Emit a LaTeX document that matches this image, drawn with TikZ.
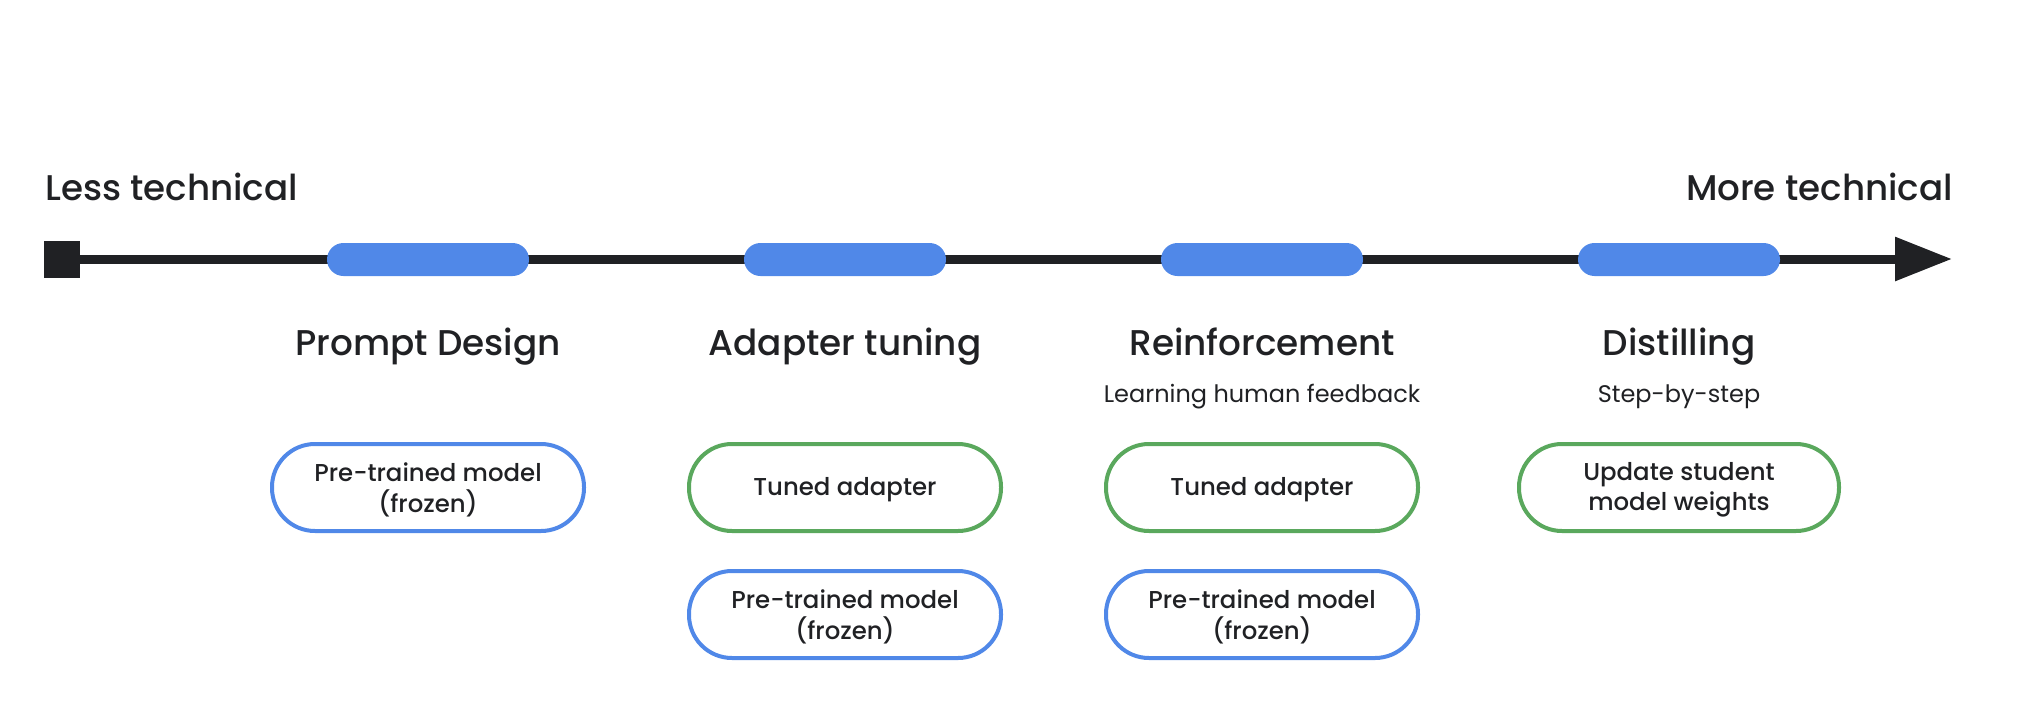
\documentclass[tikz,border=0pt]{standalone}
\usepackage{fontspec}
\setmainfont{Poppins}
\newfontfamily\medfont{Poppins Medium}
\usetikzlibrary{arrows.meta}
\definecolor{gblue}{HTML}{5088E8}
\definecolor{ggreen}{HTML}{5AA85D}
\definecolor{ink}{HTML}{202124}
\begin{document}
\begin{tikzpicture}[x=1pt,y=-1pt,
  bar/.style={fill=gblue, rounded corners=16.5pt, minimum width=202pt, minimum height=33pt, inner sep=0pt},
  pill/.style={draw=#1, line width=4pt, fill=white, rounded corners=43pt, minimum width=312pt, minimum height=87pt,
     inner sep=0pt},
  pilltext/.style={align=center, text=ink, inner sep=0pt, yshift=-2.5pt, font=\fontsize{24.4}{30.5}\selectfont\medfont},
  title/.style={anchor=base, text=ink, inner sep=0pt, font=\fontsize{35.8}{42}\selectfont\medfont},
  sub/.style={anchor=base, text=ink, inner sep=0pt, font=\fontsize{24}{28}\selectfont},
  ends/.style={anchor=base, text=ink, inner sep=0pt, font=\fontsize{35.7}{42}\selectfont\medfont}]
\useasboundingbox (0,0) rectangle (2028,720);
\fill[white] (0,0) rectangle (2028,720);
% timeline
\node[fill=ink, minimum width=36pt, minimum height=37pt, inner sep=0pt] (sq) at (62,259) {};
\coordinate (tip) at (1952,259);
\draw[ink, line width=9pt, -{Triangle[length=57pt,width=42pt]}] (sq.center) -- (tip);
\node[bar] (b1) at (428,259.5) {};
\node[bar] (b2) at (845,259.5) {};
\node[bar] (b3) at (1262,259.5) {};
\node[bar] (b4) at (1679,259.5) {};
% end labels
\node[ends, anchor=base west] (less) at (45,200) {Less technical};
\node[ends, anchor=base east] (more) at (1953,200) {More technical};
% titles
\node[title] (t1) at (428,355) {Prompt Design};
\node[title] (t2) at (845,355) {Adapter tuning};
\node[title] (t3) at (1262,355) {Reinforcement};
\node[title] (t4) at (1679,355) {Distilling};
\node[sub] (s3) at (1262,402) {Learning human feedback};
\node[sub] (s4) at (1679,402) {Step-by-step};
% boxes
\node[pill=gblue] (p1) at (428,487.5) {};
\node[pilltext] (p1t) at (p1.center) {Pre-trained model\\(frozen)};
\node[pill=ggreen] (a2) at (845,487.5) {};
\node[pilltext] (a2t) at (a2.center) {Tuned adapter};
\node[pill=gblue] (p2) at (845,614.5) {};
\node[pilltext] (p2t) at (p2.center) {Pre-trained model\\(frozen)};
\node[pill=ggreen] (a3) at (1262,487.5) {};
\node[pilltext] (a3t) at (a3.center) {Tuned adapter};
\node[pill=gblue] (p3) at (1262,614.5) {};
\node[pilltext] (p3t) at (p3.center) {Pre-trained model\\(frozen)};
\node[pill=ggreen, minimum width=320pt] (u4) at (1679,487.5) {};
\node[pilltext] (u4t) at (u4.center) {Update student\\model weights};
\end{tikzpicture}
\end{document}
